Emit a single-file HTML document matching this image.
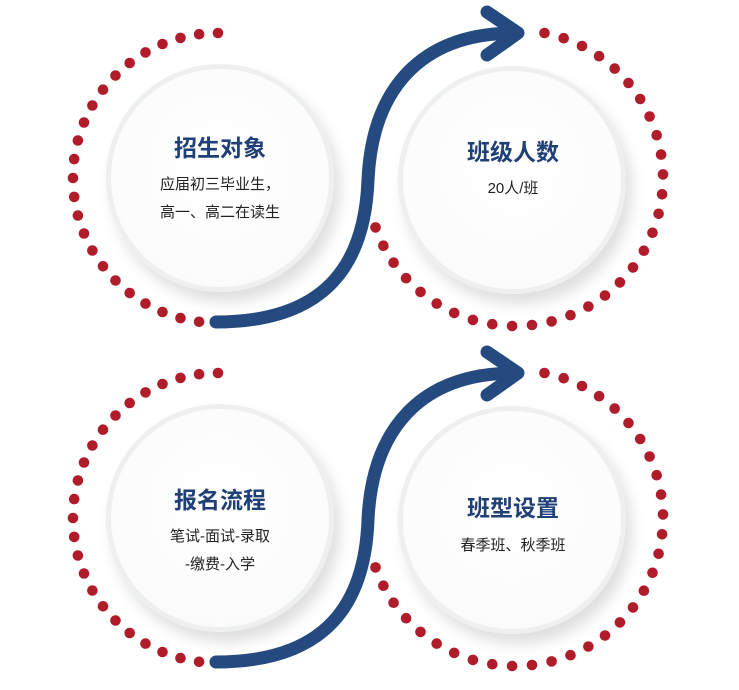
<!DOCTYPE html>
<html><head><meta charset="utf-8"><style>
body{margin:0;width:739px;height:690px;background:#fff;overflow:hidden;position:relative;font-family:"Liberation Sans","Noto Sans CJK SC",sans-serif}
svg{position:absolute;left:0;top:0}
.c{position:absolute;width:218px;height:218px;border-radius:50%;border:5px solid #eef0f0;background:radial-gradient(circle at 50% 45%,#fff 0,#fbfbfb 75%,#f2f2f3 100%);box-shadow:6px 10px 14px rgba(0,0,0,.13)}
.t{position:absolute;width:240px;text-align:center;color:#1f3f77;font-weight:bold;font-size:23px}
.b{position:absolute;width:240px;text-align:center;color:#222;font-size:15px;line-height:28px}
</style></head><body>
<div class="c" style="left:106px;top:64px"></div>
<div class="c" style="left:398px;top:66px"></div>
<div class="c" style="left:106px;top:404px"></div>
<div class="c" style="left:398px;top:406px"></div>
<svg width="739" height="690" id="s"></svg>
<div class="t" style="left:100px;top:129px">招生对象</div>
<div class="b" style="left:100px;top:171px">应届初三毕业生，<br>高一、高二在读生</div>
<div class="t" style="left:393px;top:133px">班级人数</div>
<div class="b" style="left:393px;top:175px">20人/班</div>
<div class="t" style="left:100px;top:481px">报名流程</div>
<div class="b" style="left:100px;top:523px">笔试-面试-录取<br>-缴费-入学</div>
<div class="t" style="left:393px;top:489px">班型设置</div>
<div class="b" style="left:393px;top:532px">春季班、秋季班</div>
<script>
var s=document.getElementById('s'),h='';
function dots(cx,cy,r,a0,a1,n){for(var i=0;i<n;i++){var a=(a0+(a1-a0)*i/(n-1))*Math.PI/180;h+='<circle cx="'+(cx+r*Math.cos(a)).toFixed(1)+'" cy="'+(cy+r*Math.sin(a)).toFixed(1)+'" r="5.3" fill="#b01c2a"/>';}}
[0,340].forEach(function(o){
dots(218,178+o,145,-90,-262.5,24);
dots(515,178+o,148,-78.5,160.5,32);
h+='<path d="M216,'+(322+o)+' C330,'+(322+o)+' 365,'+(260+o)+' 368,'+(180+o)+' C372,'+(90+o)+' 420,'+(33+o)+' 515,'+(33+o)+'" fill="none" stroke="#254a80" stroke-width="13" stroke-linecap="round"/>';
h+='<polyline points="487,'+(12+o)+' 518,'+(33+o)+' 487,'+(55+o)+'" fill="none" stroke="#254a80" stroke-width="13" stroke-linecap="round" stroke-linejoin="round"/>';
});
s.innerHTML=h;
</script>
</body></html>
